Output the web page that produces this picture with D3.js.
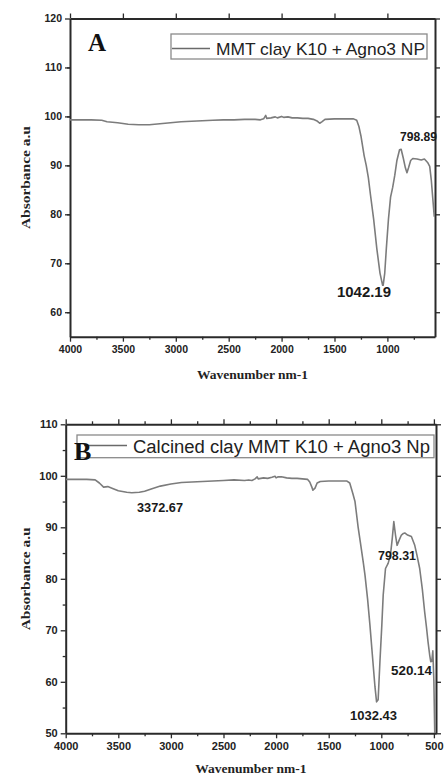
<!DOCTYPE html>
<html>
<head>
<meta charset="utf-8">
<script src="https://cdn.jsdelivr.net/npm/d3@7"></script>
<style>
  html, body { margin: 0; padding: 0; background: #fff; }
  svg { display: block; }
</style>
</head>
<body>
<svg id="chart" width="446" height="776"></svg>
<script>
// ---------- DATA ----------
const wavenumberA = [4000,3900,3800,3700,3650,3550,3450,3350,3250,3150,3050,2950,2850,2750,2650,2550,2450,2350,2250,2200,2170,2150,2140,2100,2060,2040,2000,1980,1940,1900,1850,1800,1750,1700,1660,1640,1620,1590,1500,1400,1320,1290,1270,1250,1220,1200,1180,1160,1130,1100,1070,1045,1040,1025,1010,990,970,950,930,910,885,870,850,830,815,800,780,760,720,680,650,620,600,585,570,557];
const absorbanceA = [99.3,99.3,99.3,99.2,98.9,98.7,98.4,98.3,98.3,98.5,98.7,98.9,99.0,99.1,99.2,99.3,99.3,99.4,99.4,99.3,99.5,100.2,99.6,99.7,99.9,99.7,100.0,99.8,99.9,99.7,99.7,99.6,99.6,99.4,99.0,98.6,98.9,99.4,99.5,99.5,99.5,99.2,98.0,96.0,92.0,90.0,87.5,84.0,79.0,73.0,68.0,65.5,65.5,68.0,73.0,79.0,83.5,85.5,88.0,91.0,93.2,93.3,91.5,89.5,88.5,89.5,91.0,91.4,91.3,91.1,91.3,90.6,89.8,87.0,83.0,79.5];

const wavenumberB = [4000,3900,3800,3720,3680,3640,3600,3560,3500,3420,3372,3300,3250,3180,3100,3000,2900,2800,2700,2600,2500,2400,2300,2260,2230,2200,2180,2170,2120,2080,2040,2010,2000,1980,1950,1900,1850,1800,1750,1700,1680,1660,1650,1630,1610,1580,1500,1400,1330,1300,1270,1250,1220,1200,1170,1155,1130,1108,1080,1060,1045,1030,1013,995,982,960,935,913,895,881,865,850,830,809,790,777,750,714,682,660,635,610,588,570,556,540,530,520,510,500,492];
const absorbanceB = [99.3,99.3,99.3,99.2,98.6,97.8,97.9,97.6,97.1,96.8,96.7,96.8,97.0,97.5,98.0,98.4,98.7,98.8,98.9,99.0,99.1,99.2,99.1,99.2,99.1,99.4,99.8,99.4,99.6,99.5,99.7,99.9,99.6,99.8,99.8,99.6,99.5,99.5,99.4,99.3,98.8,97.8,97.2,97.6,98.6,98.9,99.0,99.0,99.0,98.6,96.5,95.0,90.0,87.2,83.0,80.7,76.0,71.0,64.0,59.0,56.1,56.5,63.9,71.0,76.8,82.0,83.0,84.6,88.0,91.1,88.5,86.5,87.5,88.5,88.8,88.9,88.5,88.2,86.5,84.5,82.0,78.0,73.6,70.5,67.8,65.2,63.9,64.0,66.0,60.0,50.0];

const xTicksA = [4000,3500,3000,2500,2000,1500,1000];
const xTicksB = [4000,3500,3000,2500,2000,1500,1000,500];
const yTicksA = [60,70,80,90,100,110,120];
const yTicksB = [50,60,70,80,90,100,110];

const legendA = "MMT clay K10 + Agno3 NP";
const legendB = "Calcined clay MMT K10 + Agno3 Np";
const panelLetters = ["A","B"];
const xTitle = "Wavenumber nm-1";
const yTitle = "Absorbance a.u";

const peaksA = ["1042.19","798.89"];
const peaksB = ["3372.67","1032.43","798.31","520.14"];

// ---------- DRAW ----------
const svg = d3.select("#chart");
const AXIS = "#2a2a2a";
const CURVE = "#7c7c7c";
const fmt = d3.format("d");

function panel(cfg) {
  const g = svg.append("g");
  const x = d3.scaleLinear().domain(cfg.xDomain).range([cfg.left, cfg.right]);
  const y = d3.scaleLinear().domain(cfg.yDomain).range([cfg.bottom, cfg.top]);

  const clipId = "clip" + cfg.id;
  svg.append("clipPath").attr("id", clipId).append("rect")
    .attr("x", cfg.left).attr("y", cfg.top)
    .attr("width", cfg.right - cfg.left).attr("height", cfg.bottom - cfg.top);

  const minorX = d3.range(4000, cfg.xDomain[1] - 1, -250).filter(v => v % 500 !== 0);
  const minorY = d3.range(cfg.yDomain[0] + 5, cfg.yDomain[1], 10);

  function styleAxis(sel) {
    sel.select(".domain").attr("stroke", AXIS).attr("stroke-width", 2);
    sel.selectAll(".tick line").attr("stroke", AXIS).attr("stroke-width", 1.3);
    sel.selectAll(".tick text").attr("fill", "#222")
      .attr("font-family", "Liberation Sans, Arial, sans-serif")
      .attr("font-weight", "bold");
  }
  function minorStyle(s) {
    s.select(".domain").remove();
    s.selectAll("line").attr("stroke", AXIS).attr("stroke-width", 1.3);
  }

  // bottom axis
  const bx = g.append("g").attr("transform", `translate(0,${cfg.bottom})`)
    .call(d3.axisBottom(x).tickValues(cfg.xTicks).tickFormat(fmt).tickSize(5).tickPadding(4).tickSizeOuter(0));
  styleAxis(bx);
  bx.selectAll(".tick text").attr("font-size", cfg.xFont);
  g.append("g").attr("transform", `translate(0,${cfg.bottom})`)
    .call(d3.axisBottom(x).tickValues(minorX).tickSize(3).tickFormat("").tickSizeOuter(0))
    .call(minorStyle);

  // top axis
  const tx = g.append("g").attr("transform", `translate(0,${cfg.top})`)
    .call(d3.axisTop(x).tickValues(cfg.xTicks).tickSize(5).tickFormat("").tickSizeOuter(0));
  styleAxis(tx);
  if (cfg.topMinor) {
    g.append("g").attr("transform", `translate(0,${cfg.top})`)
      .call(d3.axisTop(x).tickValues(minorX).tickSize(3).tickFormat("").tickSizeOuter(0))
      .call(minorStyle);
  }

  // left axis
  const ly = g.append("g").attr("transform", `translate(${cfg.left},0)`)
    .call(d3.axisLeft(y).tickValues(cfg.yTicks).tickFormat(fmt).tickSize(5).tickPadding(3).tickSizeOuter(0));
  styleAxis(ly);
  ly.selectAll(".tick text").attr("font-size", cfg.yFont);
  g.append("g").attr("transform", `translate(${cfg.left},0)`)
    .call(d3.axisLeft(y).tickValues(minorY).tickSize(3).tickFormat("").tickSizeOuter(0))
    .call(minorStyle);

  // right axis
  const ry = g.append("g").attr("transform", `translate(${cfg.right},0)`)
    .call(d3.axisRight(y).tickValues(cfg.yTicks).tickSize(5).tickFormat("").tickSizeOuter(0));
  styleAxis(ry);

  // curve
  const data = cfg.wn.map((w, i) => ({ w, a: cfg.ab[i] }));
  g.append("path").datum(data)
    .attr("clip-path", `url(#${clipId})`)
    .attr("fill", "none").attr("stroke", CURVE).attr("stroke-width", 1.6)
    .attr("stroke-linejoin", "round")
    .attr("d", d3.line().x(d => x(d.w)).y(d => y(d.a)));

  // legend
  const lg = cfg.legend;
  g.append("rect").attr("x", lg.x0).attr("y", lg.y0)
    .attr("width", lg.x1 - lg.x0).attr("height", lg.y1 - lg.y0)
    .attr("fill", "#fff").attr("stroke", "#8a8a8a").attr("stroke-width", 1.3);
  g.append("line").attr("x1", lg.lx0).attr("x2", lg.lx1).attr("y1", lg.ly).attr("y2", lg.ly)
    .attr("stroke", "#6a6a6a").attr("stroke-width", 1.3);
  g.append("text").attr("x", lg.tx).attr("y", lg.ty).text(lg.text)
    .attr("font-family", "Liberation Sans, Arial, sans-serif").attr("font-size", lg.size)
    .attr("fill", "#222").attr("textLength", lg.tw).attr("lengthAdjust", "spacingAndGlyphs");

  // panel letter
  g.append("text").attr("x", cfg.letter.x).attr("y", cfg.letter.y).text(cfg.letter.t)
    .attr("font-family", "Liberation Serif, Times New Roman, serif").attr("font-weight", "bold")
    .attr("font-size", cfg.letter.size).attr("fill", "#111");

  // peak labels
  cfg.peaks.forEach(p => {
    g.append("text").attr("x", p.x).attr("y", p.y).text(p.t)
      .attr("font-family", "Liberation Sans, Arial, sans-serif").attr("font-weight", "bold")
      .attr("font-size", p.size).attr("fill", "#1a1a1a")
      .attr("textLength", p.tw).attr("lengthAdjust", "spacingAndGlyphs");
  });

  // axis titles
  g.append("text").attr("x", (cfg.left + cfg.right) / 2).attr("y", cfg.xTitleY)
    .attr("text-anchor", "middle").text(xTitle)
    .attr("font-family", "Liberation Serif, Times New Roman, serif").attr("font-weight", "bold")
    .attr("font-size", 13.5).attr("fill", "#222");
  g.append("text")
    .attr("transform", `translate(${cfg.yTitleX},${(cfg.top + cfg.bottom) / 2}) rotate(-90)`)
    .attr("text-anchor", "middle").text(yTitle)
    .attr("font-family", "Liberation Serif, Times New Roman, serif").attr("font-weight", "bold")
    .attr("font-size", 13.5).attr("fill", "#222")
    .attr("textLength", 103).attr("lengthAdjust", "spacingAndGlyphs");
}

panel({
  id: "A", left: 70, right: 435, top: 18.5, bottom: 336.7,
  xDomain: [4000, 550], yDomain: [55, 120],
  xTicks: xTicksA, yTicks: yTicksA, topMinor: false,
  xFont: 10.5, yFont: 10.5,
  wn: wavenumberA, ab: absorbanceA,
  legend: { x0: 171, x1: 427, y0: 34, y1: 59, lx0: 172, lx1: 210, ly: 48.5,
            tx: 216, ty: 55, size: 17, tw: 209, text: legendA },
  letter: { x: 88, y: 50.5, t: panelLetters[0], size: 25 },
  peaks: [
    { t: peaksA[0], x: 337, y: 296.5, size: 15, tw: 54 },
    { t: peaksA[1], x: 400, y: 140.5, size: 13, tw: 37 }
  ],
  xTitleY: 378.5, yTitleX: 30
});

panel({
  id: "B", left: 65.7, right: 436, top: 424.3, bottom: 733.3,
  xDomain: [4000, 480], yDomain: [50, 110],
  xTicks: xTicksB, yTicks: yTicksB, topMinor: true,
  xFont: 11, yFont: 11,
  wn: wavenumberB, ab: absorbanceB,
  legend: { x0: 77, x1: 434, y0: 435, y1: 457.7, lx0: 84, lx1: 127, ly: 445.5,
            tx: 133, ty: 453, size: 18, tw: 297, text: legendB },
  letter: { x: 74, y: 459.5, t: panelLetters[1], size: 26 },
  peaks: [
    { t: peaksB[0], x: 137, y: 512, size: 13, tw: 46 },
    { t: peaksB[1], x: 350, y: 720, size: 13, tw: 47 },
    { t: peaksB[2], x: 378, y: 560, size: 13, tw: 38 },
    { t: peaksB[3], x: 391, y: 675, size: 13, tw: 41 }
  ],
  xTitleY: 772.5, yTitleX: 30
});
</script>
</body>
</html>
